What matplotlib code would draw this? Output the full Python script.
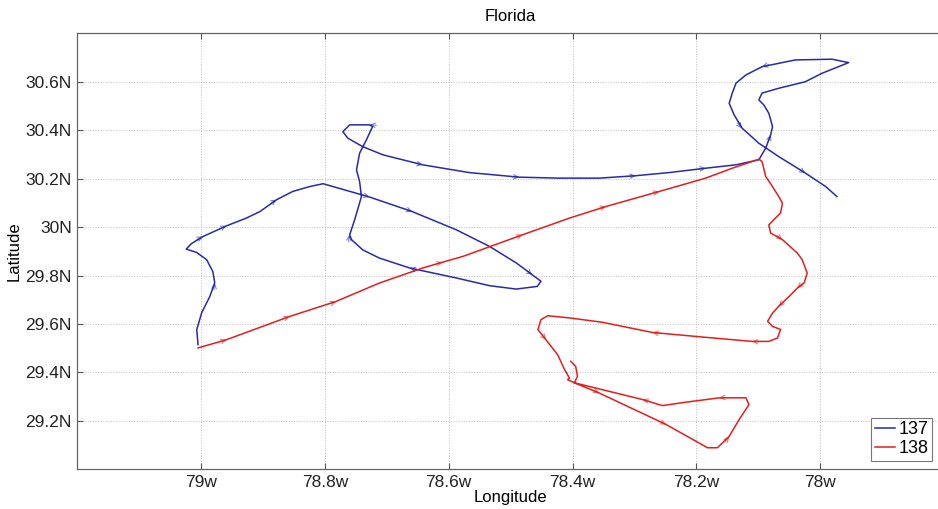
import numpy as np
import matplotlib.pyplot as plt
from matplotlib.ticker import FuncFormatter

plt.rcParams['font.family'] = ['Liberation Sans', 'DejaVu Sans']

# drifter 137 track, degrees (west longitude negative)
lon_137 = [-79.005, -79.007, -78.999, -78.986, -78.978, -78.981, -78.991, -79.007, -79.024, -79.016,
           -78.997, -78.959, -78.927, -78.905, -78.878, -78.852, -78.825, -78.803, -78.728, -78.659,
           -78.588, -78.534, -78.491, -78.465, -78.451, -78.457, -78.491, -78.534, -78.588, -78.663,
           -78.712, -78.739, -78.757, -78.760, -78.752, -78.741, -78.744, -78.749, -78.744, -78.733,
           -78.723, -78.728, -78.760, -78.771, -78.763, -78.739, -78.706, -78.642, -78.567, -78.486,
           -78.421, -78.357, -78.298, -78.244, -78.185, -78.136, -78.099, -78.088, -78.080, -78.077,
           -78.083, -78.091, -78.099, -78.094, -78.067, -78.024, -77.997, -77.954, -77.981, -78.040,
           -78.094, -78.120, -78.136, -78.142, -78.147, -78.139, -78.126, -78.099, -78.067, -78.024,
           -77.991, -77.973]
lat_137 = [29.515, 29.577, 29.647, 29.713, 29.770, 29.816, 29.865, 29.895, 29.909, 29.931,
           29.961, 30.005, 30.037, 30.064, 30.113, 30.147, 30.167, 30.179, 30.124, 30.064,
           29.989, 29.920, 29.852, 29.803, 29.776, 29.755, 29.744, 29.758, 29.790, 29.831,
           29.872, 29.906, 29.948, 29.968, 30.030, 30.126, 30.188, 30.236, 30.305, 30.360,
           30.415, 30.422, 30.422, 30.394, 30.367, 30.332, 30.298, 30.257, 30.225, 30.206,
           30.202, 30.202, 30.212, 30.225, 30.243, 30.257, 30.278, 30.326, 30.381, 30.415,
           30.470, 30.504, 30.525, 30.553, 30.573, 30.600, 30.635, 30.679, 30.693, 30.690,
           30.662, 30.628, 30.594, 30.553, 30.511, 30.463, 30.408, 30.346, 30.291, 30.223,
           30.167, 30.126]
arrows_137 = [4, 10, 11, 14, 18, 19, 23, 29, 33, 41, 47, 49, 52, 54, 58, 70, 76, 79]

# drifter 138 track
lon_138 = [-79.005, -78.959, -78.857, -78.782, -78.712, -78.642, -78.610, -78.577, -78.481, -78.405,
           -78.346, -78.260, -78.185, -78.142, -78.099, -78.094, -78.088, -78.077, -78.067, -78.061,
           -78.064, -78.075, -78.083, -78.080, -78.061, -78.037, -78.029, -78.021, -78.026, -78.037,
           -78.050, -78.067, -78.077, -78.085, -78.077, -78.064, -78.069, -78.083, -78.110, -78.190,
           -78.271, -78.352, -78.405, -78.440, -78.451, -78.456, -78.443, -78.424, -78.413, -78.405,
           -78.408, -78.397, -78.357, -78.249, -78.182, -78.166, -78.147, -78.131, -78.115, -78.120,
           -78.163, -78.217, -78.255, -78.287, -78.397, -78.392, -78.395, -78.403]
lat_138 = [29.501, 29.535, 29.631, 29.693, 29.769, 29.831, 29.855, 29.879, 29.968, 30.037,
           30.085, 30.147, 30.202, 30.243, 30.280, 30.271, 30.209, 30.167, 30.126, 30.099,
           30.058, 30.030, 30.009, 29.975, 29.948, 29.893, 29.865, 29.810, 29.769, 29.748,
           29.714, 29.673, 29.645, 29.611, 29.590, 29.577, 29.542, 29.528, 29.528, 29.546,
           29.565, 29.607, 29.625, 29.634, 29.618, 29.577, 29.535, 29.473, 29.412, 29.377,
           29.370, 29.357, 29.315, 29.185, 29.089, 29.089, 29.136, 29.205, 29.267, 29.295,
           29.295, 29.277, 29.263, 29.288, 29.357, 29.384, 29.425, 29.446]
arrows_138 = [1, 2, 3, 6, 8, 10, 11, 24, 29, 31, 38, 40, 46, 52, 53, 56, 60, 63]

x_ticks = [-79.0, -78.8, -78.6, -78.4, -78.2, -78.0]
y_ticks = [29.2, 29.4, 29.6, 29.8, 30.0, 30.2, 30.4, 30.6]

blue = '#2a2aa8'
red = '#e01f1f'


def draw_arrows(ax, lon, lat, idx, color):
    # small open arrowheads pointing along the track
    pts = ax.transData.transform(np.column_stack([lon, lat]))
    for i in idx:
        d = pts[min(i + 1, len(pts) - 1)] - pts[max(i - 1, 0)]
        d = d / np.hypot(*d)
        ax.annotate("", xy=(lon[i], lat[i]), xytext=(-d[0] * 5, -d[1] * 5),
                    textcoords="offset points",
                    arrowprops=dict(arrowstyle="->", color=color, lw=0.8, alpha=0.6,
                                    mutation_scale=8, shrinkA=0, shrinkB=0))


fig = plt.figure(figsize=(9.38, 5.09), dpi=100)
ax = fig.add_axes([0.0824, 0.078, 0.924, 0.8566])
ax.set_xlim(-79.2, -77.8)
ax.set_ylim(29.0, 30.8)

ax.plot(lon_137, lat_137, color=blue, lw=1.1, label='137')
ax.plot(lon_138, lat_138, color=red, lw=1.1, label='138')
draw_arrows(ax, lon_137, lat_137, arrows_137, blue)
draw_arrows(ax, lon_138, lat_138, arrows_138, red)

ax.set_xticks(x_ticks)
ax.set_yticks(y_ticks)
ax.xaxis.set_major_formatter(FuncFormatter(lambda v, p: f"{-v:g}w"))
ax.yaxis.set_major_formatter(FuncFormatter(lambda v, p: f"{v:g}N"))
ax.grid(True, linestyle=':', color='#bdbdbd', lw=0.7)
ax.tick_params(direction='in', top=True, right=True, length=4, color='#555555',
               labelsize=12.5, pad=4, labelcolor='#222222')
for s in ax.spines.values():
    s.set_color('#666666')
    s.set_linewidth(0.9)

ax.set_title('Florida', fontsize=12, pad=9)
ax.set_xlabel('Longitude', fontsize=12, labelpad=0)
ax.set_ylabel('Latitude', fontsize=12, labelpad=3)

leg = ax.legend(loc='lower right', bbox_to_anchor=(932 / 938, (509 - 460.7) / 509),
                bbox_transform=fig.transFigure, fontsize=13, fancybox=False,
                handlelength=1.1, handletextpad=0.2, borderpad=0.2, labelspacing=0.1,
                borderaxespad=0)
leg.get_frame().set_edgecolor('#555555')
leg.get_frame().set_linewidth(0.8)

fig.savefig('out.png', dpi=100)
